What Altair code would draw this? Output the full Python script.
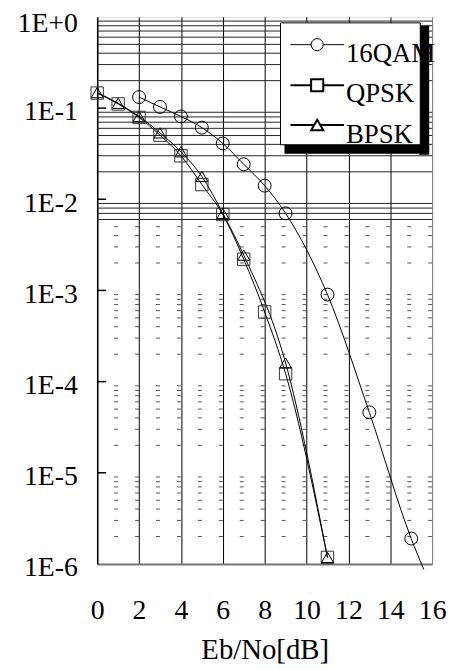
import altair as alt
import pandas as pd

# ---- data ----
series_names = ["16QAM", "QPSK", "BPSK"]

qam_x = [2, 3, 4, 5, 6, 7, 8, 9, 11, 13, 15]
qam_ber = [0.132, 0.103, 0.081, 0.061, 0.041, 0.0242, 0.0141, 0.0070, 9.0e-4, 4.6e-5, 1.9e-6]
qam_tail_x = [15.6]          # line continues past the last marker
qam_tail_ber = [8.7e-7]

qpsk_x = [0, 1, 2, 3, 4, 5, 6, 7, 8, 9, 11]
qpsk_ber = [0.146, 0.111, 0.079, 0.0505, 0.0300, 0.0145, 0.0068, 0.0022, 5.8e-4, 1.22e-4, 1.18e-6]

bpsk_x = [0, 1, 2, 3, 4, 5, 6, 7, 9, 11]
bpsk_ber = [0.148, 0.113, 0.081, 0.0535, 0.0332, 0.0178, 0.0070, 0.00244, 1.6e-4, 1.18e-6]

x_ticks = [0, 2, 4, 6, 8, 10, 12, 14, 16]
y_ticks = [1.0, 1e-1, 1e-2, 1e-3, 1e-4, 1e-5, 1e-6]
minor_mult = [2, 3, 4, 5, 6, 7, 8, 9]
solid_limit = 0.006

FONT = "Liberation Serif, Times New Roman, Times, serif"

# ---- tables ----
rows = []
for name, xs, ys in [("16QAM", qam_x, qam_ber), ("QPSK", qpsk_x, qpsk_ber), ("BPSK", bpsk_x, bpsk_ber)]:
    for xv, yv in zip(xs, ys):
        rows.append({"series": name, "x": xv, "ber": yv, "marker": True})
for xv, yv in zip(qam_tail_x, qam_tail_ber):
    rows.append({"series": "16QAM", "x": xv, "ber": yv, "marker": False})
df = pd.DataFrame(rows)

grid_rows = []
for d in y_ticks[1:]:
    for m in minor_mult:
        v = m * d
        grid_rows.append({"v": v, "solid": v >= solid_limit})
grid_df = pd.DataFrame(grid_rows)
decade_df = pd.DataFrame({"v": y_ticks[1:-1]})

W, H = 338, 552

xscale = alt.Scale(domain=[0, 16], nice=False, zero=False)
yscale = alt.Scale(type="log", domain=[1e-6, 1.0], nice=False)

x_axis = alt.Axis(
    values=x_ticks, grid=True,
    gridColor={"condition": {"test": "datum.value == 16", "value": "#777777"}, "value": "black"},
    gridWidth=1, ticks=False, tickSize=0, labelFlush=False,
    labelFont=FONT, labelFontSize=28, labelColor="black",
    labelBaseline="alphabetic", labelPadding=55,
    domainColor="#777777", domainWidth=2,
    title="Eb/No[dB]", titleFont=FONT, titleFontSize=29, titleFontWeight="normal",
    titleColor="black", titleBaseline="alphabetic", titleY=95,
)
y_axis = alt.Axis(
    values=y_ticks, grid=False, ticks=False, tickSize=0,
    labelExpr="datum.value >= 1 ? '1E+0' : '1E-' + format(-log(datum.value)/LN10, '.0f')",
    labelFont=FONT, labelFontSize=28, labelColor="black",
    labelAlign="right", labelBaseline="middle", labelPadding=20,
    labelOffset={"condition": {"test": "datum.value >= 1", "value": 7}, "value": 4},
    domainColor="black", domainWidth=1.5, title=None,
)

X = alt.X("x:Q", scale=xscale, axis=x_axis)
Y = alt.Y("ber:Q", scale=yscale, axis=y_axis)

solid_grid = alt.Chart(grid_df).transform_filter("datum.solid").mark_rule(
    color="#222222", strokeWidth=1
).encode(y=alt.Y("v:Q", scale=yscale, axis=y_axis))

dash_grid = alt.Chart(grid_df).transform_filter("!datum.solid").mark_rule(
    color="#555555", strokeWidth=1, strokeDash=[4, 17.125]
).encode(y=alt.Y("v:Q", scale=yscale, axis=y_axis))

decade_ticks = alt.Chart(decade_df).mark_rule(color="black", strokeWidth=1.5).encode(
    y=alt.Y("v:Q", scale=yscale, axis=y_axis), x=alt.value(0), x2=alt.value(9)
)

lines = alt.Chart(df).mark_line(interpolate="monotone", color="black", strokeWidth=1).encode(
    x=X, y=Y, detail="series:N", order="x:Q"
)

points = alt.Chart(df).transform_filter("datum.marker").mark_point(
    filled=False, strokeWidth=1, opacity=1
).encode(
    x=X, y=Y,
    shape=alt.Shape("series:N", scale=alt.Scale(domain=series_names, range=["circle", "square", "triangle-up"]), legend=None),
    color=alt.Color("series:N", scale=alt.Scale(domain=series_names, range=["black", "#333333", "black"]), legend=None),
    size=alt.Size("series:N", scale=alt.Scale(domain=series_names, range=[169, 144, 150]), legend=None),
)

# ---- legend (drawn by hand, as in the reference) ----
one = pd.DataFrame({"a": [0]})
leg_layers = [
    alt.Chart(one).mark_rect(color="black").encode(
        x=alt.value(325), x2=alt.value(335), y=alt.value(9), y2=alt.value(139)),
    alt.Chart(one).mark_rect(color="black").encode(
        x=alt.value(189), x2=alt.value(335), y=alt.value(128), y2=alt.value(138)),
    alt.Chart(one).mark_rect(fill="white", stroke="black", strokeWidth=1).encode(
        x=alt.value(185), x2=alt.value(326), y=alt.value(6), y2=alt.value(129)),
]
leg_shapes = ["circle", "square", "triangle-up"]
leg_widths = [1, 2, 2]
leg_sym_y = [28, 69, 109]
leg_txt_y = [45, 86, 127]
for i, name in enumerate(series_names):
    leg_layers.append(alt.Chart(one).mark_rule(color="black", strokeWidth=leg_widths[i]).encode(
        x=alt.value(195), x2=alt.value(249), y=alt.value(leg_sym_y[i])))
    leg_layers.append(alt.Chart(one).mark_point(
        shape=leg_shapes[i], filled=True, fill="white", stroke="black",
        strokeWidth=leg_widths[i], size=150, opacity=1).encode(
        x=alt.value(222), y=alt.value(leg_sym_y[i])))
    leg_layers.append(alt.Chart(one).mark_text(
        font=FONT, fontSize=27, align="left", baseline="alphabetic", color="black").encode(
        x=alt.value(251), y=alt.value(leg_txt_y[i]), text=alt.value(name)))

chart = alt.layer(
    solid_grid, dash_grid, decade_ticks, lines, points, *leg_layers
).properties(
    width=W, height=H,
    autosize=alt.AutoSizeParams(type="none"),
    padding={"left": 90, "top": 6, "right": 16, "bottom": 102},
).configure_view(stroke="black", strokeWidth=1.5).configure(background="white")

chart.save("out.html", embed_options={"renderer": "svg", "actions": False})
